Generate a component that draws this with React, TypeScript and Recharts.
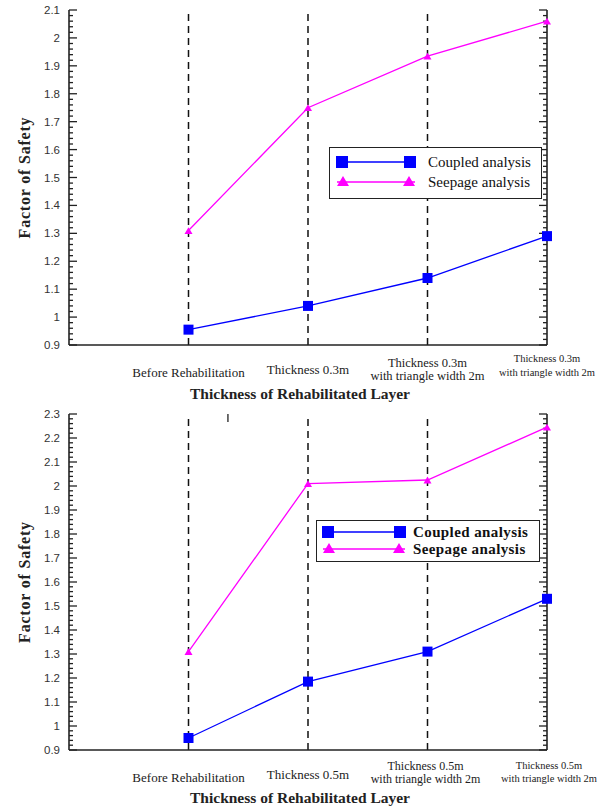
import React from "react";
import { LineChart, Line, XAxis, YAxis, ReferenceLine } from "recharts";

// category slots on the numeric x axis (0..4)
const categoryPos = [1, 2, 3, 4];
const dashedAt = [1, 2, 3];
const xDomain = [0, 4];

const topLabels = [
  ["Before Rehabilitation"],
  ["Thickness 0.3m"],
  ["Thickness 0.3m", "with triangle width 2m"],
  ["Thickness 0.3m", "with triangle width 2m"],
];
const bottomLabels = [
  ["Before Rehabilitation"],
  ["Thickness 0.5m"],
  ["Thickness 0.5m", "with triangle width 2m"],
  ["Thickness 0.5m", "with triangle width 2m"],
];

const topCoupled = [0.955, 1.04, 1.14, 1.29];
const topSeepage = [1.31, 1.75, 1.935, 2.06];
const bottomCoupled = [0.95, 1.185, 1.31, 1.53];
const bottomSeepage = [1.31, 2.01, 2.025, 2.245];

const topYTicks = [0.9, 1, 1.1, 1.2, 1.3, 1.4, 1.5, 1.6, 1.7, 1.8, 1.9, 2, 2.1];
const bottomYTicks = [0.9, 1, 1.1, 1.2, 1.3, 1.4, 1.5, 1.6, 1.7, 1.8, 1.9, 2, 2.1, 2.2, 2.3];
// stray tick on the upper frame of the lower panel
const bottomTopTicks = [1.33];

const seriesNames = ["Coupled analysis", "Seepage analysis"];
const BLUE = "#0000ff";
const MAGENTA = "#ff00ff";
const AXIS = "#222";
const PLOT_LEFT = 69;
const PX_PER_X = 478 / 4; // plot width / x domain span
const MAJOR_LEN = 8 / PX_PER_X;
const MINOR_LEN = 4 / PX_PER_X;

function withMinor(majors: number[]) {
  const out: number[] = [];
  for (let i = 0; i < majors.length - 1; i++) {
    const a = majors[i];
    const step = (majors[i + 1] - a) / 5;
    for (let k = 1; k < 5; k++) out.push(Math.round((a + k * step) * 1000) / 1000);
  }
  return out;
}

function LeftLabel(props: any) {
  const { y, payload } = props;
  return (
    <text x={PLOT_LEFT - 9} y={y} dy={4} textAnchor="end" fontSize={11.5} fontFamily="'Liberation Sans', Arial" fill="#333">
      {String(Math.round(payload.value * 10) / 10)}
    </text>
  );
}

// per-slot text layout: offset below axis of each line, font size, dx
const topLayout = [
  { dy: [27], fs: 13, dx: 0 },
  { dy: [24], fs: 13, dx: 0 },
  { dy: [18, 31], fs: 12.5, dx: 0 },
  { dy: [13, 27], fs: 10.5, dx: 0 },
];
const bottomLayout = [
  { dy: [27], fs: 13, dx: 0 },
  { dy: [24], fs: 13, dx: 0 },
  { dy: [16, 29], fs: 12, dx: -2 },
  { dy: [15, 28], fs: 10.5, dx: 2 },
];

function CatTick(props: any) {
  const { x, y, payload, labels, layout } = props;
  const idx = categoryPos.indexOf(payload.value);
  if (idx < 0) return null;
  const lines: string[] = labels[idx];
  const l = layout[idx];
  return (
    <g>
      {lines.map((t, i) => (
        <text
          key={i}
          x={x + l.dx}
          y={y + l.dy[i]}
          dy={l.fs * 0.35}
          textAnchor="middle"
          fontSize={l.fs}
          fontFamily="'Liberation Serif', 'Times New Roman', serif"
          fill="#222"
        >
          {t}
        </text>
      ))}
    </g>
  );
}

function Square(props: any) {
  const { cx, cy, size = 10, color } = props;
  if (cx == null || cy == null) return null;
  return <rect x={cx - size / 2} y={cy - size / 2} width={size} height={size} fill={color} />;
}

function Triangle(props: any) {
  const { cx, cy, size = 8, color } = props;
  if (cx == null || cy == null) return null;
  const h = size * 0.85;
  return <polygon points={`${cx},${cy - h / 2} ${cx - size / 2},${cy + h / 2} ${cx + size / 2},${cy + h / 2}`} fill={color} />;
}

function LegendBox({ left, top, width, height, rows, bold, fontSize, lineFrom, lineTo, textX }: any) {
  return (
    <div
      style={{
        position: "absolute",
        left,
        top,
        width,
        height,
        border: "1.5px solid #222",
        background: "#fff",
        boxSizing: "border-box",
      }}
    >
      <svg width={width} height={height} style={{ position: "absolute", left: -1.5, top: -1.5 }}>
        {seriesNames.map((name, i) => {
          const y = rows[i];
          const color = i === 0 ? BLUE : MAGENTA;
          return (
            <g key={name}>
              <line x1={lineFrom} x2={lineTo} y1={y} y2={y} stroke={color} strokeWidth={1.3} />
              {i === 0 ? (
                <>
                  <Square cx={lineFrom + 5} cy={y} size={12} color={color} />
                  <Square cx={lineTo - 5} cy={y} size={12} color={color} />
                </>
              ) : (
                <>
                  <Triangle cx={lineFrom + 6} cy={y - 1} size={12} color={color} />
                  <Triangle cx={lineTo - 6} cy={y - 1} size={12} color={color} />
                </>
              )}
              <text
                x={textX}
                y={y}
                dy={fontSize * 0.35}
                fontSize={fontSize}
                fontWeight={bold ? 700 : 400}
                letterSpacing={bold ? 0.4 : 0}
                fontFamily="'Liberation Serif', 'Times New Roman', serif"
                fill="#111"
              >
                {name}
              </text>
            </g>
          );
        })}
      </svg>
    </div>
  );
}

function SafetyChart({ top, height, marginTop, xAxisHeight, coupled, seepage, yTicks, labels, layout, topTicks = [] }: any) {
  const data = categoryPos.map((pos, i) => ({ pos, coupled: coupled[i], seepage: seepage[i] }));
  const minorTicks = withMinor(yTicks);
  const domain = [yTicks[0], yTicks[yTicks.length - 1]];
  const frameTicks = [
    ...yTicks.map((v: number) => ({ v, len: MAJOR_LEN })),
    ...minorTicks.map((v) => ({ v, len: MINOR_LEN })),
  ];
  const yTop = domain[1];
  const yStep = (domain[1] - domain[0]) / (height - marginTop - xAxisHeight); // value per px
  return (
    <div style={{ position: "absolute", left: 0, top }}>
      <LineChart width={607} height={height} data={data} margin={{ top: marginTop, right: 50, left: 19, bottom: 0 }}>
        <XAxis
          xAxisId="b"
          dataKey="pos"
          type="number"
          domain={xDomain}
          ticks={categoryPos}
          interval={0}
          height={xAxisHeight}
          tickSize={0}
          tickMargin={0}
          axisLine={{ stroke: AXIS, strokeWidth: 1.6 }}
          tickLine={false}
          tick={(p: any) => <CatTick {...p} labels={labels} layout={layout} />}
          label={(p: any) => {
            const vb = p.viewBox;
            return (
              <text
                x={300}
                y={vb.y + vb.height - 6}
                textAnchor="middle"
                fontSize={15.5}
                fontWeight={700}
                fontFamily="'Liberation Serif', 'Times New Roman', serif"
                fill="#222"
              >
                Thickness of Rehabilitated Layer
              </text>
            );
          }}
        />
        <XAxis
          xAxisId="t"
          dataKey="pos"
          type="number"
          orientation="top"
          domain={xDomain}
          height={0}
          tick={false}
          tickLine={false}
          axisLine={{ stroke: AXIS, strokeWidth: 1.6 }}
        />
        <YAxis
          yAxisId="l"
          type="number"
          domain={domain}
          ticks={yTicks}
          interval={0}
          width={50}
          tickSize={0}
          tickMargin={0}
          tickLine={false}
          axisLine={{ stroke: AXIS, strokeWidth: 1.6 }}
          tick={(p: any) => <LeftLabel {...p} />}
          label={(p: any) => {
            const vb = p.viewBox;
            const cy = vb.y + vb.height / 2;
            return (
              <text
                x={25}
                y={cy}
                transform={`rotate(-90 25 ${cy})`}
                textAnchor="middle"
                dy={5}
                fontSize={16}
                fontWeight={700}
                letterSpacing={0.8}
                fontFamily="'Liberation Serif', 'Times New Roman', serif"
                fill="#222"
              >
                Factor of Safety
              </text>
            );
          }}
        />
        <YAxis
          yAxisId="r"
          orientation="right"
          type="number"
          domain={domain}
          ticks={yTicks}
          width={10}
          tick={false}
          tickLine={false}
          axisLine={{ stroke: AXIS, strokeWidth: 1.6 }}
        />
        {/* inward frame ticks on both vertical axes */}
        {frameTicks.map((t, i) => (
          <ReferenceLine
            key={`tl${i}`}
            xAxisId="b"
            yAxisId="l"
            segment={[
              { x: xDomain[0] + 0.0001, y: t.v },
              { x: xDomain[0] + t.len, y: t.v },
            ]}
            stroke={AXIS}
            strokeWidth={1.3}
            ifOverflow="visible"
          />
        ))}
        {frameTicks.map((t, i) => (
          <ReferenceLine
            key={`tr${i}`}
            xAxisId="b"
            yAxisId="l"
            segment={[
              { x: xDomain[1] - t.len, y: t.v },
              { x: xDomain[1], y: t.v },
            ]}
            stroke={AXIS}
            strokeWidth={1.3}
            ifOverflow="visible"
          />
        ))}
        {topTicks.map((x: number) => (
          <ReferenceLine
            key={`tt${x}`}
            xAxisId="b"
            yAxisId="l"
            segment={[
              { x, y: yTop },
              { x, y: yTop - 8 * yStep },
            ]}
            stroke={AXIS}
            strokeWidth={1.3}
            ifOverflow="visible"
          />
        ))}
        {dashedAt.map((x) => (
          <ReferenceLine
            key={x}
            xAxisId="b"
            yAxisId="l"
            x={x}
            stroke="#111"
            strokeWidth={1.5}
            strokeDasharray="7 5"
          />
        ))}
        <Line
          xAxisId="b"
          yAxisId="l"
          dataKey="coupled"
          stroke={BLUE}
          strokeWidth={1.3}
          isAnimationActive={false}
          dot={(p: any) => <Square key={`c${p.index}`} cx={p.cx} cy={p.cy} size={10} color={BLUE} />}
          activeDot={false}
        />
        <Line
          xAxisId="b"
          yAxisId="l"
          dataKey="seepage"
          stroke={MAGENTA}
          strokeWidth={1.3}
          isAnimationActive={false}
          dot={(p: any) => <Triangle key={`s${p.index}`} cx={p.cx} cy={p.cy} size={8} color={MAGENTA} />}
          activeDot={false}
        />
      </LineChart>
    </div>
  );
}

export default function App() {
  return (
    <div style={{ position: "absolute", left: 0, top: 0, width: 607, height: 809, background: "#fff", overflow: "hidden" }}>
      <SafetyChart
        top={0}
        height={405}
        marginTop={10}
        xAxisHeight={60}
        coupled={topCoupled}
        seepage={topSeepage}
        yTicks={topYTicks}
        labels={topLabels}
        layout={topLayout}
      />
      <SafetyChart
        top={405}
        height={404}
        marginTop={9}
        xAxisHeight={59}
        coupled={bottomCoupled}
        seepage={bottomSeepage}
        yTicks={bottomYTicks}
        labels={bottomLabels}
        layout={bottomLayout}
        topTicks={bottomTopTicks}
      />
      <LegendBox
        left={329}
        top={147}
        width={213}
        height={52}
        rows={[15, 35]}
        bold={false}
        fontSize={15}
        lineFrom={8}
        lineTo={86}
        textX={99}
      />
      <LegendBox
        left={316}
        top={520}
        width={224}
        height={42}
        rows={[12, 29]}
        bold={true}
        fontSize={15}
        lineFrom={7}
        lineTo={89}
        textX={97}
      />
    </div>
  );
}
